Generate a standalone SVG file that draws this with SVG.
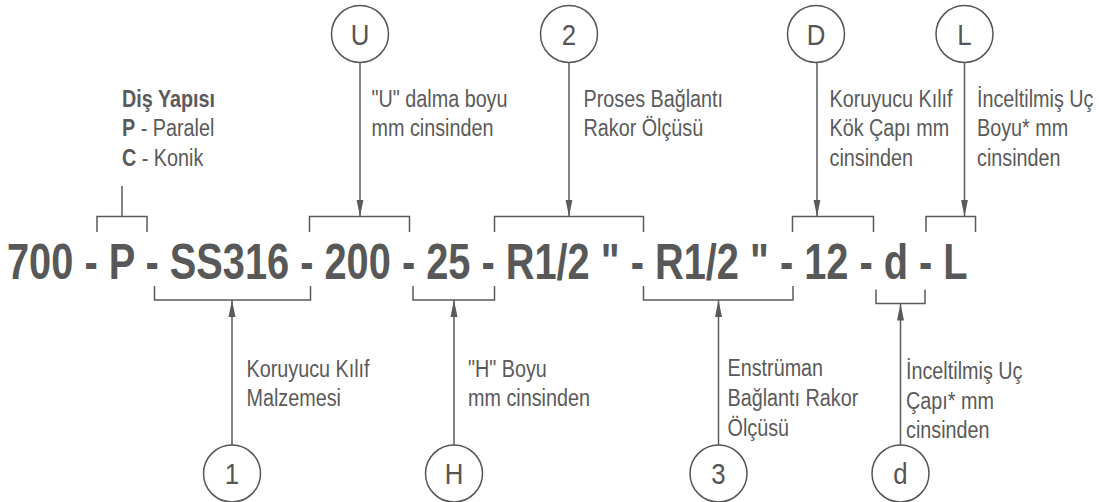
<svg xmlns="http://www.w3.org/2000/svg" width="1099" height="502" viewBox="0 0 1099 502">
<style>
.code{font-family:"Liberation Sans",Arial,sans-serif;font-weight:bold;font-size:50px;fill:#585858}
.lbl{font-family:"Liberation Sans",Arial,sans-serif;font-size:23px;fill:#5a5a5a}
.b{font-weight:bold}
.cl{font-family:"Liberation Sans",Arial,sans-serif;font-size:30px;fill:#555;text-anchor:middle}
.circ{fill:none;stroke:#555;stroke-width:1.5}
.ln{fill:none;stroke:#5a5a5a;stroke-width:1.5}
</style>
<defs>
<marker id="ah" markerUnits="userSpaceOnUse" markerWidth="18" markerHeight="8" refX="17" refY="4" orient="auto">
<path d="M0,0.5 L17,4 L0,7.5 z" fill="#5a5a5a"/>
</marker>
</defs>
<rect width="1099" height="502" fill="#ffffff"/>

<g id="code">
<text class="code" transform="translate(7,278.5) scale(0.7956,1)">700 - P - SS316 - 200 - 25 - R1/2 " - R1/2 " - 12 - d - L</text>
</g>

<g id="connectors">
<polyline class="ln" points="97,232 97,216.5 147,216.5 147,232"/>
<line class="ln" x1="122" y1="186" x2="122" y2="216.5"/>
<polyline class="ln" points="309.5,232 309.5,216.5 409.5,216.5 409.5,232"/>
<polyline class="ln" points="494.5,232 494.5,216.5 643.5,216.5 643.5,232"/>
<polyline class="ln" points="792.5,232 792.5,216.5 873.5,216.5 873.5,232"/>
<polyline class="ln" points="926,232 926,216.5 975.5,216.5 975.5,232"/>
<polyline class="ln" points="154.5,286 154.5,300 310.5,300 310.5,286"/>
<polyline class="ln" points="413,286 413,300 494.5,300 494.5,286"/>
<polyline class="ln" points="643.5,286 643.5,300 793,300 793,286"/>
<polyline class="ln" points="876,289.5 876,303.5 925,303.5 925,289.5"/>
<line class="ln" x1="360" y1="62.5" x2="360" y2="216.5" marker-end="url(#ah)"/>
<line class="ln" x1="569" y1="62.5" x2="569" y2="216.5" marker-end="url(#ah)"/>
<line class="ln" x1="817" y1="62.5" x2="817" y2="216.5" marker-end="url(#ah)"/>
<line class="ln" x1="964.5" y1="62.5" x2="964.5" y2="216.5" marker-end="url(#ah)"/>
<line class="ln" x1="232" y1="445" x2="232" y2="300" marker-end="url(#ah)"/>
<line class="ln" x1="454" y1="445" x2="454" y2="300" marker-end="url(#ah)"/>
<line class="ln" x1="718.5" y1="445" x2="718.5" y2="300" marker-end="url(#ah)"/>
<line class="ln" x1="900.5" y1="445" x2="900.5" y2="303.5" marker-end="url(#ah)"/>
</g>

<g id="node-P">
<text class="lbl" transform="translate(122,106.5) scale(0.86,1)"><tspan class="b">Diş Yapısı</tspan></text>
<text class="lbl" transform="translate(122,136) scale(0.86,1)"><tspan class="b">P</tspan> - Paralel</text>
<text class="lbl" transform="translate(122,165.5) scale(0.86,1)"><tspan class="b">C</tspan> - Konik</text>
</g>

<g id="node-U">
<circle class="circ" cx="360" cy="34" r="28.5"/>
<text class="cl" transform="translate(360,45) scale(0.86,1)">U</text>
<text class="lbl" transform="translate(371.5,106.5) scale(0.86,1)">"U" dalma boyu</text>
<text class="lbl" transform="translate(371.5,136) scale(0.86,1)">mm cinsinden</text>
</g>

<g id="node-2">
<circle class="circ" cx="569" cy="34" r="28.5"/>
<text class="cl" transform="translate(569,45) scale(0.86,1)">2</text>
<text class="lbl" transform="translate(583.5,106.5) scale(0.86,1)">Proses Bağlantı</text>
<text class="lbl" transform="translate(583.5,136) scale(0.86,1)">Rakor Ölçüsü</text>
</g>

<g id="node-D">
<circle class="circ" cx="816" cy="34" r="28.5"/>
<text class="cl" transform="translate(816,45) scale(0.86,1)">D</text>
<text class="lbl" transform="translate(829.5,106.5) scale(0.86,1)">Koruyucu Kılıf</text>
<text class="lbl" transform="translate(829.5,136) scale(0.86,1)">Kök Çapı mm</text>
<text class="lbl" transform="translate(829.5,165.5) scale(0.86,1)">cinsinden</text>
</g>

<g id="node-L">
<circle class="circ" cx="964.5" cy="34" r="28.5"/>
<text class="cl" transform="translate(964.5,45) scale(0.86,1)">L</text>
<text class="lbl" transform="translate(977,106.5) scale(0.86,1)">İnceltilmiş Uç</text>
<text class="lbl" transform="translate(977,136) scale(0.86,1)">Boyu* mm</text>
<text class="lbl" transform="translate(977,165.5) scale(0.86,1)">cinsinden</text>
</g>

<g id="node-1">
<circle class="circ" cx="232" cy="473.5" r="28.5"/>
<text class="cl" transform="translate(232,484) scale(0.86,1)">1</text>
<text class="lbl" transform="translate(246.5,377) scale(0.86,1)">Koruyucu Kılıf</text>
<text class="lbl" transform="translate(246.5,406) scale(0.86,1)">Malzemesi</text>
</g>

<g id="node-H">
<circle class="circ" cx="454" cy="473.5" r="28.5"/>
<text class="cl" transform="translate(454,484) scale(0.86,1)">H</text>
<text class="lbl" transform="translate(468,377) scale(0.86,1)">"H" Boyu</text>
<text class="lbl" transform="translate(468,406) scale(0.86,1)">mm cinsinden</text>
</g>

<g id="node-3">
<circle class="circ" cx="718.5" cy="473.5" r="28.5"/>
<text class="cl" transform="translate(718.5,484) scale(0.86,1)">3</text>
<text class="lbl" transform="translate(727.5,376) scale(0.86,1)">Enstrüman</text>
<text class="lbl" transform="translate(727.5,406) scale(0.86,1)">Bağlantı Rakor</text>
<text class="lbl" transform="translate(727.5,436) scale(0.86,1)">Ölçüsü</text>
</g>

<g id="node-d">
<circle class="circ" cx="900.5" cy="473.5" r="28.5"/>
<text class="cl" transform="translate(900.5,484) scale(0.86,1)">d</text>
<text class="lbl" transform="translate(906,379) scale(0.86,1)">İnceltilmiş Uç</text>
<text class="lbl" transform="translate(906,409) scale(0.86,1)">Çapı* mm</text>
<text class="lbl" transform="translate(906,438) scale(0.86,1)">cinsinden</text>
</g>
</svg>
